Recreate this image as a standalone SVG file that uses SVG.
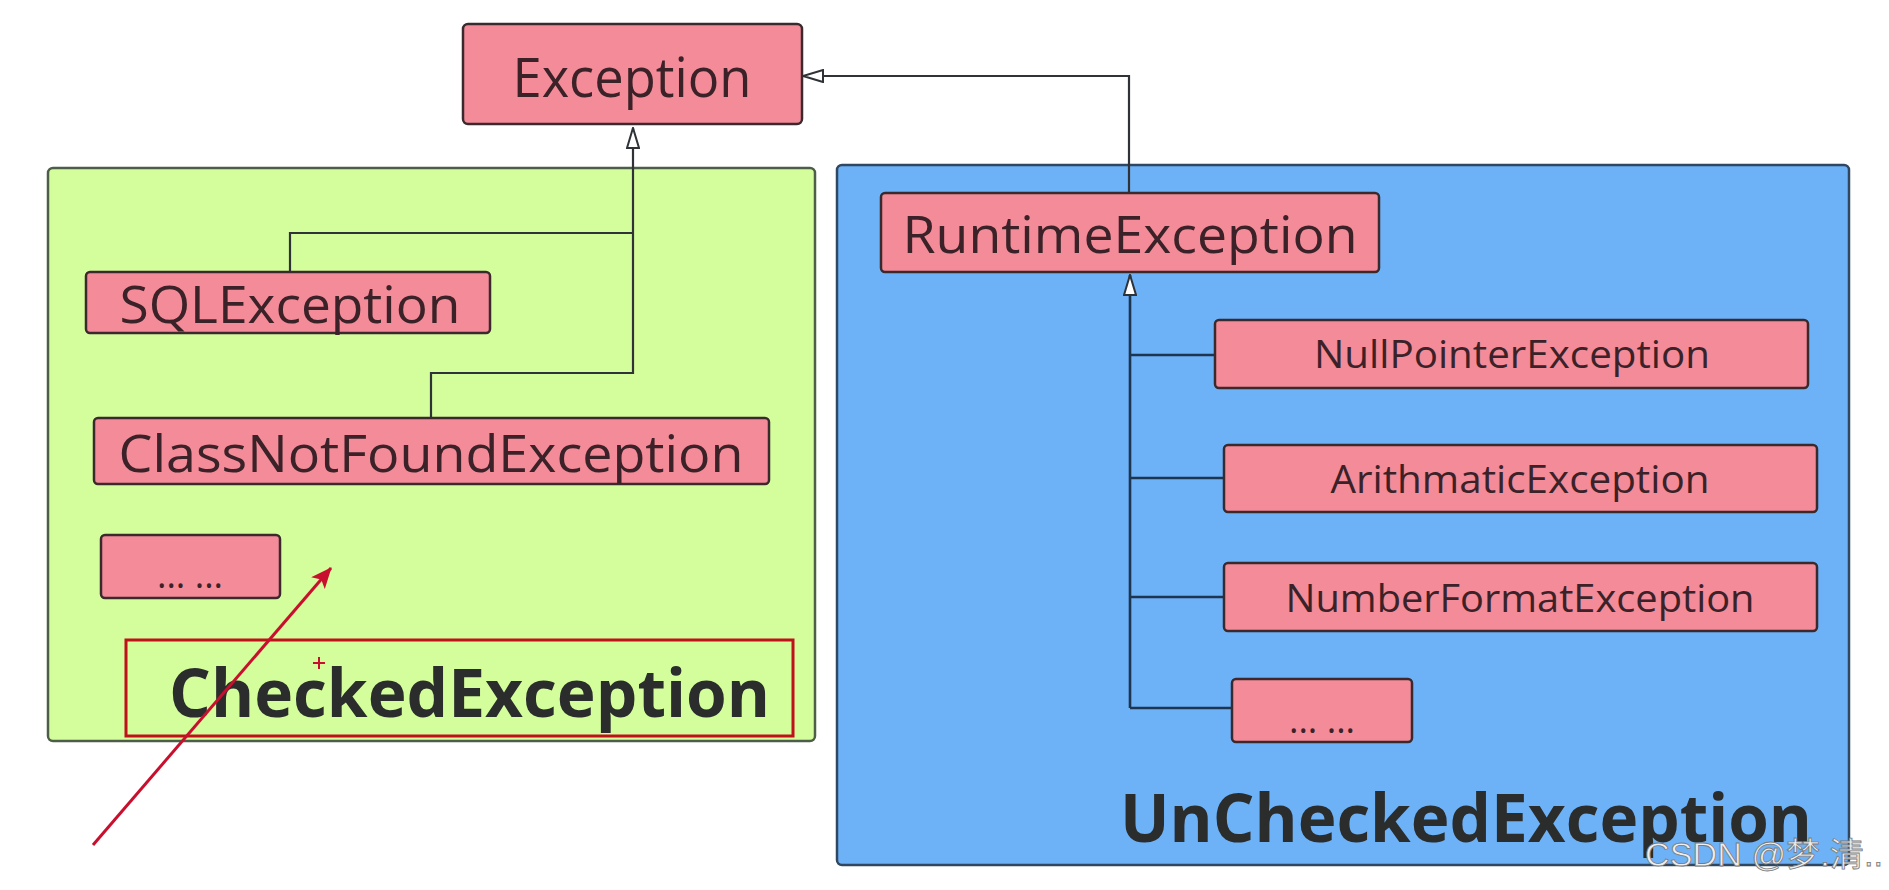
<svg xmlns="http://www.w3.org/2000/svg" width="1889" height="890" viewBox="0 0 1889 890">
<defs>
<style>
.bg{fill:#ffffff}
.node rect{fill:#f48b98;stroke:#3a2a2e;stroke-width:2.5}
.node text{font-family:"Open Sans","Liberation Sans",sans-serif;fill:#3b2228;text-anchor:middle}
.big{font-family:"Open Sans","Liberation Sans",sans-serif;font-weight:bold;fill:#2a2d2c;font-size:66px}
.conn{fill:none;stroke:#2f3338;stroke-width:2.2}
.conn2{fill:none;stroke:#1e3550;stroke-width:2.6}
</style>
<marker id="inh" viewBox="0 0 22 14" refX="21" refY="7" markerWidth="22" markerHeight="14" markerUnits="userSpaceOnUse" orient="auto">
<path d="M1,1 L21,7 L1,13 Z" fill="#ffffff" stroke="#2f3338" stroke-width="2"/>
</marker>
<marker id="red" viewBox="0 0 22 18" refX="20" refY="9" markerWidth="22" markerHeight="18" markerUnits="userSpaceOnUse" orient="auto">
<path d="M0,0 L21,9 L0,18 L5,9 Z" fill="#c8102e"/>
</marker>
</defs>
<rect class="bg" x="0" y="0" width="1889" height="890"/>

<g id="checked-group">
<rect x="48" y="168" width="767" height="573" rx="5" fill="#d4fd9c" stroke="#4d5e48" stroke-width="2.5"/>
</g>
<g id="unchecked-group">
<rect x="837" y="165" width="1012" height="700" rx="5" fill="#6db1f7" stroke="#2f4760" stroke-width="2.5"/>
</g>

<g id="connectors">
<path class="conn" d="M290,272 V233 H633"/>
<path class="conn" d="M431,418 V373 H633 V128" marker-end="url(#inh)"/>
<path class="conn" d="M1129,193 V76 H803" marker-end="url(#inh)"/>
<path class="conn2" d="M1130,708 V275" marker-end="url(#inh)"/>
<path class="conn2" d="M1130,355 H1215"/>
<path class="conn2" d="M1130,478 H1224"/>
<path class="conn2" d="M1130,597 H1224"/>
<path class="conn2" d="M1130,708 H1232"/>
</g>

<g id="exception" class="node">
<rect x="463" y="24" width="339" height="100" rx="5"/>
<text x="632" y="97" font-size="54" textLength="239" lengthAdjust="spacingAndGlyphs">Exception</text>
</g>
<g id="sqlexception" class="node">
<rect x="86" y="272" width="404" height="61" rx="4"/>
<text x="290" y="323" font-size="52" textLength="341" lengthAdjust="spacingAndGlyphs">SQLException</text>
</g>
<g id="classnotfound" class="node">
<rect x="94" y="418" width="675" height="66" rx="4"/>
<text x="431" y="472" font-size="52" textLength="625" lengthAdjust="spacingAndGlyphs">ClassNotFoundException</text>
</g>
<g id="checked-more" class="node">
<rect x="101" y="535" width="179" height="63" rx="4"/>
<text x="190" y="588" font-size="36">... ...</text>
</g>

<g id="checked-label">
<rect x="126" y="640" width="667" height="96" fill="none" stroke="#c0101a" stroke-width="3"/>
<text class="big" x="169" y="717" textLength="601" lengthAdjust="spacingAndGlyphs">CheckedException</text>
</g>

<g id="runtime" class="node">
<rect x="881" y="193" width="498" height="79" rx="4"/>
<text x="1130" y="253" font-size="52" textLength="455" lengthAdjust="spacingAndGlyphs">RuntimeException</text>
</g>
<g id="nullpointer" class="node">
<rect x="1215" y="320" width="593" height="68" rx="4"/>
<text x="1512" y="368" font-size="38" textLength="396" lengthAdjust="spacingAndGlyphs">NullPointerException</text>
</g>
<g id="arithmatic" class="node">
<rect x="1224" y="445" width="593" height="67" rx="4"/>
<text x="1520" y="493" font-size="38" textLength="379" lengthAdjust="spacingAndGlyphs">ArithmaticException</text>
</g>
<g id="numberformat" class="node">
<rect x="1224" y="563" width="593" height="68" rx="4"/>
<text x="1520" y="612" font-size="38" textLength="469" lengthAdjust="spacingAndGlyphs">NumberFormatException</text>
</g>
<g id="unchecked-more" class="node">
<rect x="1232" y="679" width="180" height="63" rx="4"/>
<text x="1322" y="733" font-size="36">... ...</text>
</g>

<g id="unchecked-label">
<text class="big" x="1120" y="842" textLength="692" lengthAdjust="spacingAndGlyphs">UnCheckedException</text>
</g>

<g id="annotation">
<line x1="93" y1="845" x2="331" y2="568" stroke="#c8102e" stroke-width="3" marker-end="url(#red)"/>
<path d="M313,663 H325 M319,657 V669" stroke="#c8102e" stroke-width="2" fill="none"/>
</g>

<g id="watermark">
<text x="1645" y="866" font-family="'Liberation Sans','Noto Sans CJK SC',sans-serif" font-size="33" fill="#eeeeee" stroke="#7a7a7a" stroke-width="0.8" textLength="238" lengthAdjust="spacingAndGlyphs">CSDN @梦.清..</text>
</g>
</svg>
